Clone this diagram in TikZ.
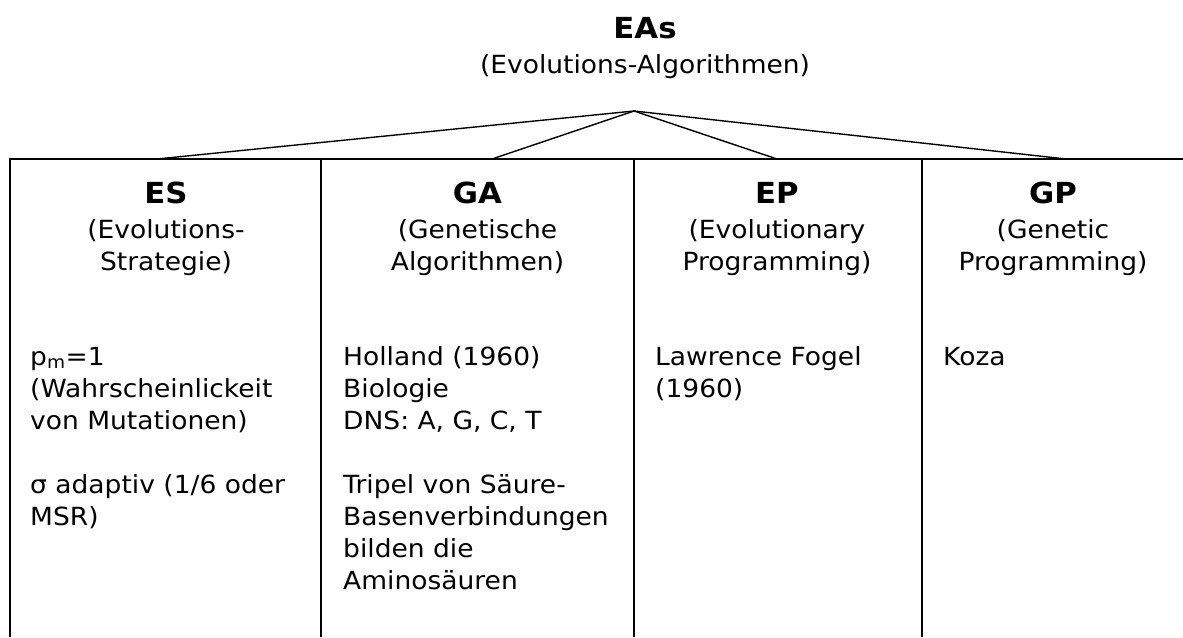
\documentclass[tikz,border=0pt]{standalone}
\usepackage{fontspec}
\setmainfont{DejaVu Sans}[FakeStretch=1.06]
\begin{document}
\begin{tikzpicture}[x=1pt,y=-1pt,
  frame/.style={line width=1.5pt},
  branch/.style={line width=1.4pt},
  headtitle/.style={anchor=base,inner sep=0pt,font=\fontsize{29}{34}\selectfont\bfseries},
  headsub/.style={anchor=base,inner sep=0pt,font=\fontsize{25}{32}\selectfont},
  body/.style={anchor=base west,inner sep=0pt,font=\fontsize{25}{32}\selectfont}]
\useasboundingbox (0,0) rectangle (1183,637);

% root label
\node[headtitle] (root) at (645,38) {EAs};
\node[headsub] (rootsub) at (645,73) {(Evolutions-Algorithmen)};

% frame of the four columns
\coordinate (tl) at (10,159);
\coordinate (tr) at (1183,159);
\coordinate (bl) at (10,637);
\draw[frame] (bl) -- (tl) -- (tr);
\foreach \x/\n in {321/d1,634/d2,922/d3}{
  \coordinate (\n t) at (\x,159);
  \coordinate (\n b) at (\x,637);
  \draw[frame] (\n t) -- (\n b);
}

% branches from the root to the columns
\coordinate (apex) at (634,111);
\coordinate (b1) at (157,159);
\coordinate (b2) at (492,159);
\coordinate (b3) at (777,159);
\coordinate (b4) at (1066,159);
\foreach \b in {b1,b2,b3,b4}{ \draw[branch] (apex) -- (\b); }

% column headers
\newcommand{\subtwo}[2]{\parbox[t]{300pt}{\centering #1\\#2}}
\node[headtitle] (es) at (166,203) {ES};
\node[headsub] (essub) at (166,238) {\subtwo{(Evolutions-}{Strategie)}};
\node[headtitle] (ga) at (477.5,203) {GA};
\node[headsub] (gasub) at (477.5,238) {\subtwo{(Genetische}{Algorithmen)}};
\node[headtitle] (ep) at (777,203) {EP};
\node[headsub] (epsub) at (777,238) {\subtwo{(Evolutionary}{Programming)}};
\node[headtitle] (gp) at (1053,203) {GP};
\node[headsub] (gpsub) at (1053,238) {\subtwo{(Genetic}{Programming)}};

% column bodies
\newcommand{\cellbox}[1]{\parbox[t]{290pt}{\raggedright #1}}
\node[body] (esbody) at (30,365) {\cellbox{p\textsubscript{m}=1\\(Wahrscheinlickeit\\von Mutationen)\\[32pt]σ adaptiv (1/6 oder\\MSR)}};
\node[body] (gabody) at (343,365) {\cellbox{Holland (1960)\\Biologie\\DNS: A, G, C, T\\[32pt]Tripel von Säure-\\Basenverbindungen\\bilden die\\Aminosäuren}};
\node[body] (epbody) at (655,365) {\cellbox{Lawrence Fogel\\(1960)}};
\node[body] (gpbody) at (943,365) {\cellbox{Koza}};
\end{tikzpicture}
\end{document}
